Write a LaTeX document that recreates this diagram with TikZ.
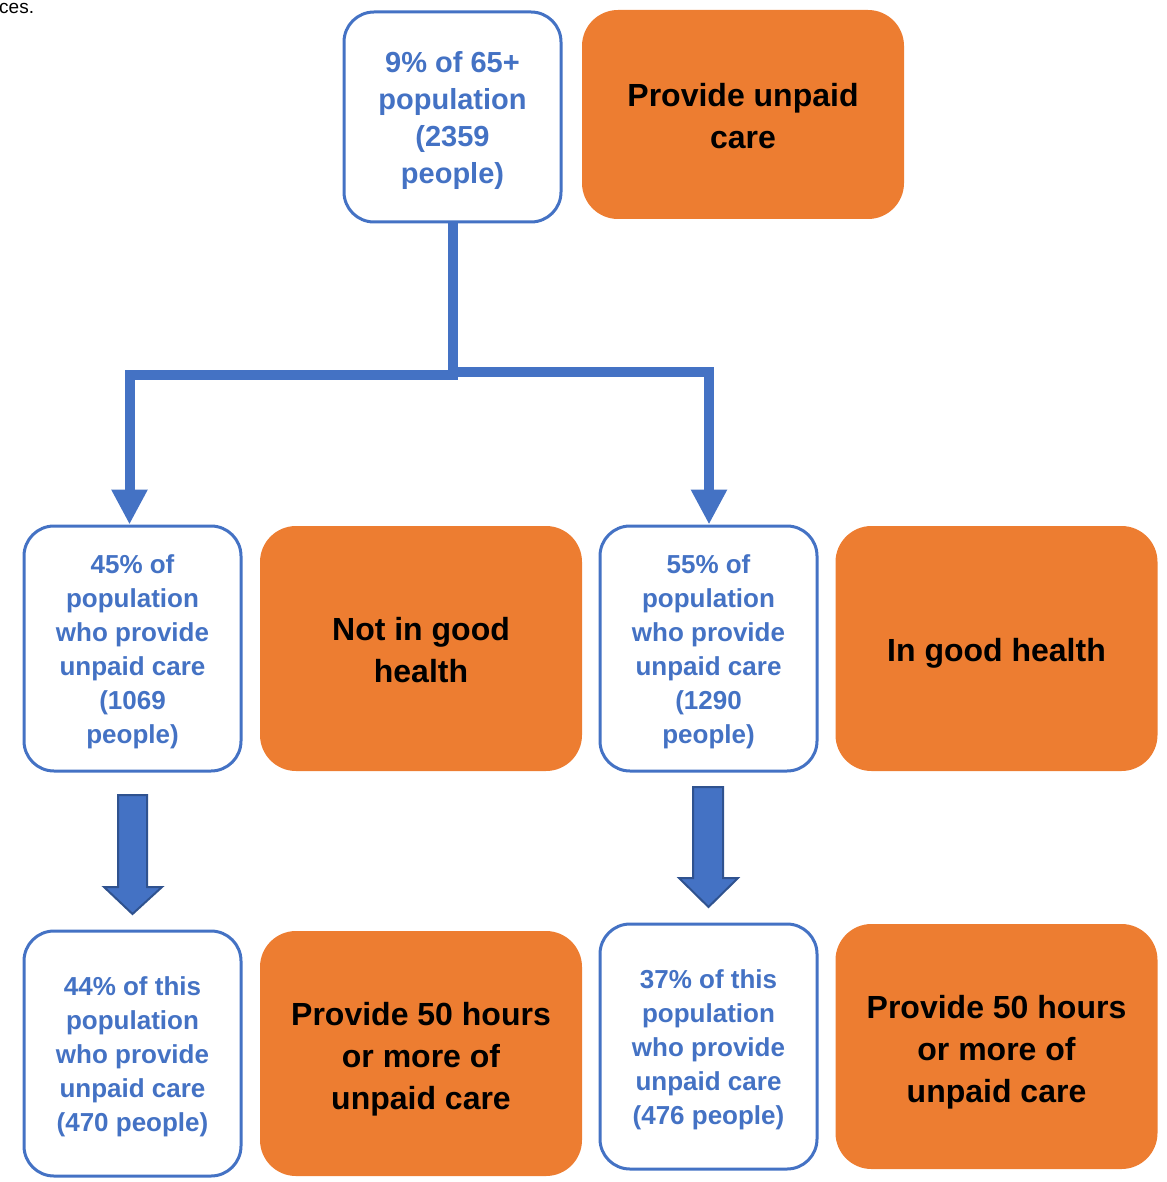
\documentclass[tikz,border=0pt]{standalone}
\usepackage{fontspec}
\setmainfont{Liberation Sans}
\usetikzlibrary{arrows.meta,calc}
\definecolor{cblue}{HTML}{4472C4}
\definecolor{cdark}{HTML}{2F528F}
\definecolor{corange}{HTML}{ED7D31}
\tikzset{
  bluebox/.style={draw=cblue, line width=3pt, fill=white, rounded corners=30pt,
    minimum width=217pt, inner sep=0pt},
  bluetext/.style={align=center, text=cblue, inner sep=0pt,
    font=\bfseries\fontsize{26}{34}\selectfont},
  orangebox/.style={fill=corange, rounded corners=36pt, minimum width=322pt, inner sep=0pt},
  orangetext/.style={align=center, text=black, inner sep=0pt,
    font=\bfseries\fontsize{32}{42}\selectfont},
  conn/.style={draw=cblue, line width=10pt, line join=miter, -{Triangle[width=34pt,length=35pt]}},
  blockarrow/.style={fill=cblue, draw=cdark, line width=2pt, line join=miter}
}
\begin{document}
\begin{tikzpicture}[x=1pt,y=-1pt]
\useasboundingbox (0,0) rectangle (1166,1182);
\node[anchor=base west, inner sep=0pt, font=\fontsize{19}{21}\selectfont] (frag) at (-1,14) {ces.};
% top row
\node[bluebox, minimum height=210pt] (top) at (452.5,117) {};
\node[bluetext, font=\bfseries\fontsize{29}{37}\selectfont] (toptext) at ($(top.center)+(0,4)$) {9\% of 65+\\population\\(2359\\people)};
\node[orangebox, minimum height=209pt] (topo) at (743,114.5) {};
\node[orangetext] (topotext) at ($(topo.center)+(0,2)$) {Provide unpaid\\care};
% middle row
\node[bluebox, minimum height=245pt] (ml) at (132.5,648.5) {};
\node[bluetext] (mltext) at ($(ml.center)+(0,3)$) {45\% of\\population\\who provide\\unpaid care\\(1069\\people)};
\node[orangebox, minimum height=245pt] (mlo) at (421,648.5) {};
\node[orangetext] (mlotext) at ($(mlo.center)+(0,2)$) {Not in good\\health};
\node[bluebox, minimum height=245pt] (mr) at (708.5,648.5) {};
\node[bluetext] (mrtext) at ($(mr.center)+(0,3)$) {55\% of\\population\\who provide\\unpaid care\\(1290\\people)};
\node[orangebox, minimum height=245pt] (mro) at (996.5,648.5) {};
\node[orangetext] (mrotext) at ($(mro.center)+(0,5)$) {In good health};
% bottom row
\node[bluebox, minimum height=245pt] (bl) at (132.5,1053.5) {};
\node[bluetext] (bltext) at ($(bl.center)+(0,3)$) {44\% of this\\population\\who provide\\unpaid care\\(470 people)};
\node[orangebox, minimum height=245pt] (blo) at (421,1053.5) {};
\node[orangetext] (blotext) at ($(blo.center)+(0,6)$) {Provide 50 hours\\or more of\\unpaid care};
\node[bluebox, minimum height=245pt] (br) at (708.5,1046.5) {};
\node[bluetext] (brtext) at ($(br.center)+(0,3)$) {37\% of this\\population\\who provide\\unpaid care\\(476 people)};
\node[orangebox, minimum height=245pt] (bro) at (996.5,1046.5) {};
\node[orangetext] (brotext) at ($(bro.center)+(0,6)$) {Provide 50 hours\\or more of\\unpaid care};
% connectors
\coordinate (jl) at (452.5,375);
\coordinate (jr) at (452.5,372);
\coordinate (al) at ($(ml.north)+(-3,0)$);
\coordinate (ar) at ($(mr.north)+(0.5,0)$);
\draw[conn] (top.south) -- (jl) -| (al);
\draw[conn] (jr) -| (ar);
% block arrows
\draw[blockarrow] (118,795) -- (147,795) -- (147,887) -- (162,887) -- (132.5,914) -- (104,887) -- (118,887) -- cycle;
\draw[blockarrow] (693,787) -- (723,787) -- (723,878) -- (738,878) -- (708.5,907) -- (679,878) -- (693,878) -- cycle;
\end{tikzpicture}
\end{document}
